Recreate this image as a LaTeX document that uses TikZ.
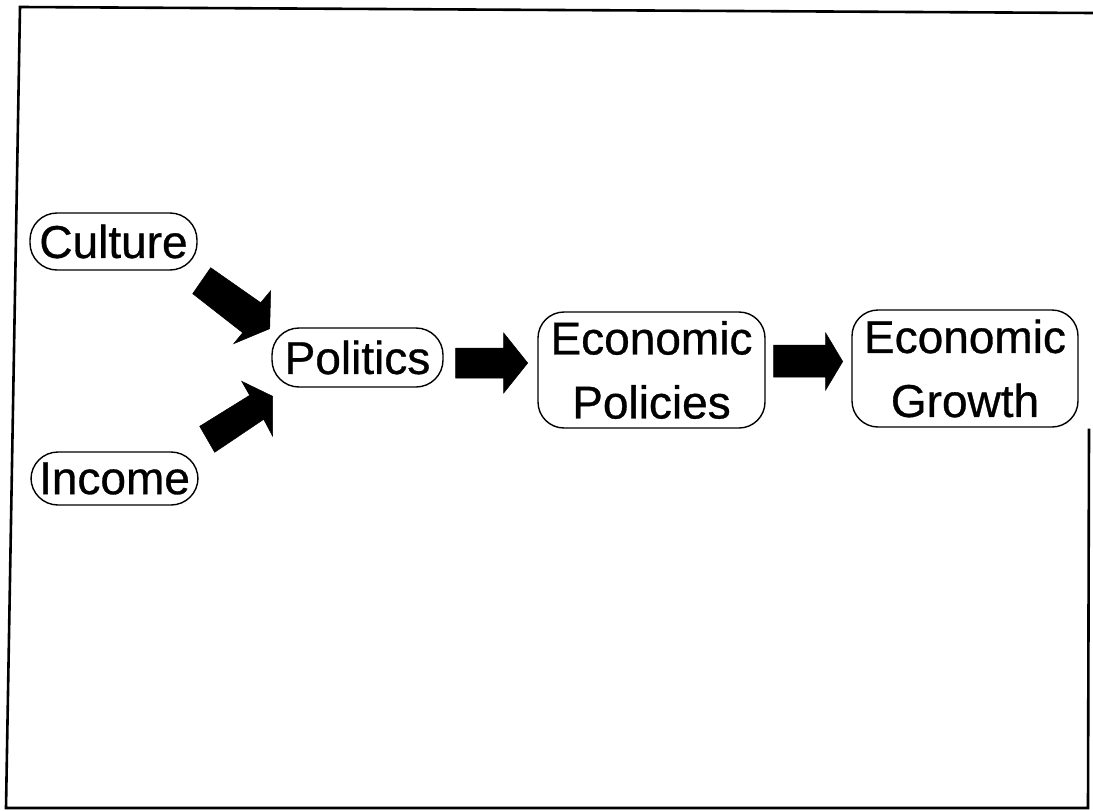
\documentclass[tikz,border=0pt]{standalone}
\usepackage{fontspec}
\setmainfont{Liberation Sans}
\newfontfamily\boxfont[FakeBold=0.7]{Liberation Sans}
\begin{document}
\begin{tikzpicture}[x=1pt,y=-1pt,
  box/.style={draw=black, line width=1.4pt, align=center, inner sep=0pt,
    font=\boxfont\fontsize{46}{64}\selectfont},
  pill/.style={box, rounded corners=27pt},
  rbox/.style={box, rounded corners=26pt},
  blockarrow/.style={fill=black, draw=black, line width=0.5pt, line join=miter},
  frameline/.style={line width=2.6pt, line cap=rect}]
\useasboundingbox (0,0) rectangle (1093,811);
% frame
\coordinate (ftl) at (20,7);
\coordinate (ftr) at (1093,13);
\coordinate (fbl) at (6,808);
\coordinate (fbr) at (1088,808);
\coordinate (frt) at (1089,430);
\draw[frameline] (ftr) -- (ftl) -- (fbl) -- (fbr) -- (frt);
% nodes
\node[pill, minimum width=167pt, minimum height=57pt] (cul) at (113.5,241.5) {Culture};
\node[pill, minimum width=167pt, minimum height=53pt] (inc) at (114.5,478.5) {Income};
\node[pill, minimum width=171pt, minimum height=59pt] (pol) at (357.5,357.5) {Politics};
\node[rbox, minimum width=227pt, minimum height=116pt] (epo) at (651.5,370) {Economic\\Policies};
\node[rbox, minimum width=226pt, minimum height=117pt] (egr) at (965,368.5) {Economic\\Growth};
% block arrows
\fill[blockarrow] (cul.south east) ++(13,-3) -- ++(50,35) -- ++(10,-12) -- ++(-1,38)
  -- ++(-36,15) -- ++(9,-11) -- ++(-50,-39) -- cycle;
\fill[blockarrow] (inc.north east) ++(1,-25) -- ++(50,-31) -- ++(-8,-14) -- ++(31,15)
  -- ++(0,40) -- ++(-9,-17) -- ++(-49,33) -- cycle;
\fill[blockarrow] (pol.east) ++(12,-9.5) -- ++(48,0) -- ++(0,-15) -- ++(24,30)
  -- ++(-24,30) -- ++(0,-15) -- ++(-48,0) -- cycle;
\fill[blockarrow] (epo.east) ++(8,-25) -- ++(52,0) -- ++(0,-12) -- ++(17,28.5)
  -- ++(-17,28.5) -- ++(0,-13) -- ++(-52,0) -- cycle;
\end{tikzpicture}
\end{document}
